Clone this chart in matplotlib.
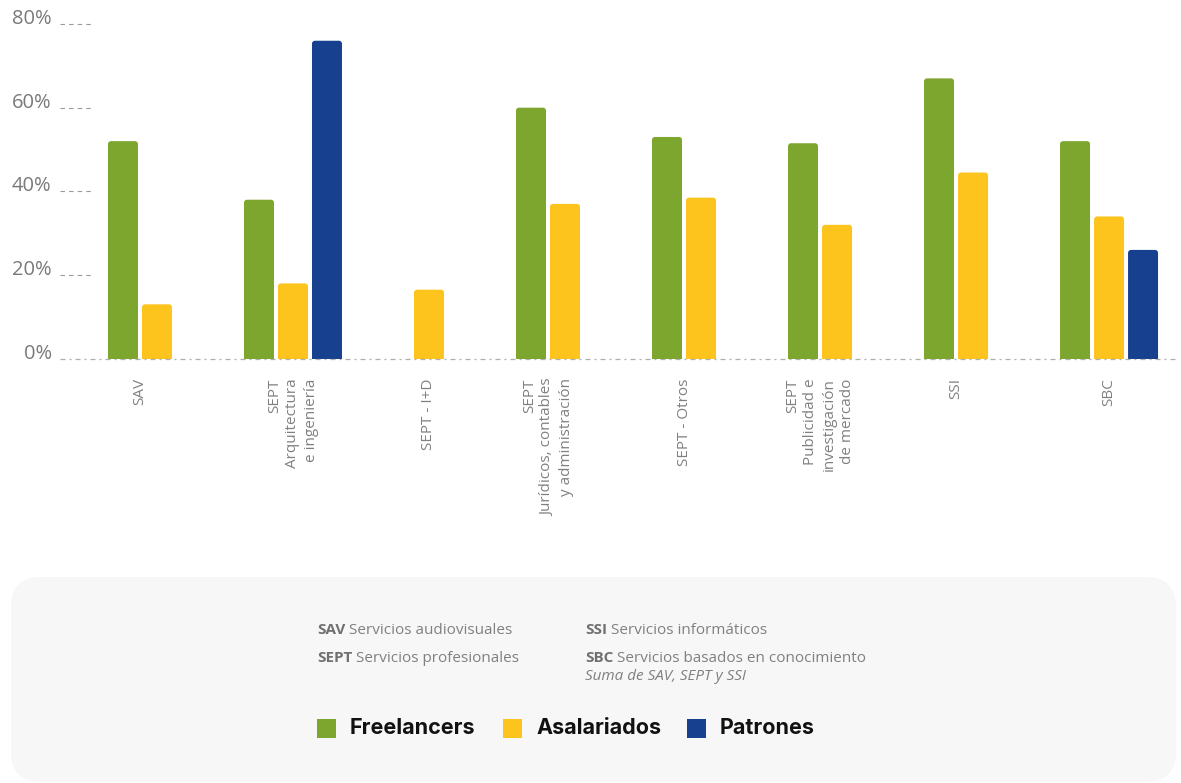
import matplotlib
matplotlib.use("Agg")
import matplotlib.pyplot as plt
from matplotlib.patches import FancyBboxPatch, Rectangle

plt.rcParams['lines.scale_dashes'] = False

categories = ["SAV",
              "SEPT\nArquitectura\ne ingeniería",
              "SEPT - I+D",
              "SEPT\nJurídicos, contables\ny administración",
              "SEPT - Otros",
              "SEPT\nPublicidad e\ninvestigación\nde mercado",
              "SSI",
              "SBC"]
freelancers = [52, 38, None, 60, 53, 51.5, 67, 52]
asalariados = [13, 18, 16.5, 37, 38.5, 32, 44.5, 34]
patrones = [None, 76, None, None, None, None, None, 26]
y_ticks = [0, 20, 40, 60, 80]

series = [("Freelancers", freelancers, "#7ca62d"),
          ("Asalariados", asalariados, "#fec41e"),
          ("Patrones", patrones, "#17418f")]

W, H = 1181, 783
fig = plt.figure(figsize=(W / 100, H / 100), dpi=100)
fig.patch.set_facecolor("white")

# axes placed in pixel terms
ax = fig.add_axes([60 / W, 1 - 358.7 / H, 1115 / W, 334.7 / H])
ax.set_xlim(-0.713, 7.485)
ax.set_ylim(0, 80)
for s in ax.spines.values():
    s.set_visible(False)

offsets = [-0.25, 0, 0.25]
bar_w = 30 / 136
px_x = 136.0
px_y = 334.7 / 80

for k, (name, vals, col) in enumerate(series):
    xs = [i + offsets[k] for i, v in enumerate(vals) if v is not None]
    hs = [v for v in vals if v is not None]
    bars = ax.bar(xs, hs, width=bar_w, color=col, zorder=2)
    # swap plain rectangles for ones with softly rounded tops
    for r in bars.patches:
        r.set_visible(False)
        p = FancyBboxPatch((r.get_x(), -3), r.get_width(), r.get_height() + 3,
                           boxstyle="round,pad=0,rounding_size=%f" % (3 / px_x),
                           mutation_aspect=(3 / px_y) / (3 / px_x),
                           facecolor=col, edgecolor="none", zorder=2)
        ax.add_patch(p)

# ticks sit under the bars actually present in each group
tick_pos = []
for i in range(len(categories)):
    present = [offsets[k] for k, (_, vals, _) in enumerate(series) if vals[i] is not None]
    tick_pos.append(i + sum(present) / len(present))
ax.set_xticks(tick_pos)
ax.set_xticklabels(categories, rotation=90, ha="center", va="top", ma="right",
                   fontsize=11, color="#808080", family="Open Sans", linespacing=1.3)
ax.tick_params(axis="x", length=0, pad=14)

ax.set_yticks(y_ticks)
ax.set_yticklabels(["%d%%" % v for v in y_ticks], fontsize=14.5, color="#7a7a7a",
                   family="Open Sans", va="baseline")
ax.tick_params(axis="y", length=0, pad=6)

# dashed stubs for the gridlines and the dashed baseline
for v in y_ticks[1:]:
    ax.axhline(v, xmin=0, xmax=33 / 1115, color="#9a9a9a", lw=0.8,
               dashes=(3.2, 3.0), zorder=1, clip_on=False)
ax.axhline(0, color="#9a9a9a", lw=0.9, dashes=(3.6, 2.9, 1.4, 2.9),
           alpha=0.8, zorder=3, clip_on=False)

# rounded panel for the notes and legend
box = FancyBboxPatch((0.11, 0.01), 11.65, 2.05,
                     boxstyle="round,pad=0,rounding_size=0.3",
                     transform=fig.dpi_scale_trans, facecolor="#f7f7f7",
                     edgecolor="none", zorder=0)
fig.add_artist(box)


def fx(px):
    return px / W


def fy(py):
    return 1 - py / H


renderer = fig.canvas.get_renderer()

notes = [(317, 634, "SAV", "Servicios audiovisuales"),
         (317, 662, "SEPT", "Servicios profesionales"),
         (585, 634, "SSI", "Servicios informáticos"),
         (585, 662, "SBC", "Servicios basados en conocimiento")]
for x, y, abbr, desc in notes:
    t = fig.text(fx(x), fy(y), abbr, fontsize=11, fontweight="bold",
                 color="#707070", family="Open Sans", va="baseline", ha="left")
    x1 = t.get_window_extent(renderer).x1
    fig.text((x1 + 4) / W, fy(y), desc, fontsize=11, color="#808080",
             family="Open Sans", va="baseline", ha="left")
fig.text(fx(585), fy(680), "Suma de SAV, SEPT y SSI", fontsize=11, style="italic",
         color="#808080", family="Open Sans", va="baseline", ha="left")

legend_x = [317, 503, 687]
for (name, _, col), x in zip(series, legend_x):
    fig.add_artist(Rectangle((fx(x), fy(738)), 19 / W, 19 / H,
                             transform=fig.transFigure, facecolor=col,
                             edgecolor="none"))
    fig.text(fx(x + 33), fy(728.5), name, fontsize=15.5, fontweight="bold",
             color="#111111", family="Inter", va="center", ha="left")

fig.savefig("out.png", dpi=100)
